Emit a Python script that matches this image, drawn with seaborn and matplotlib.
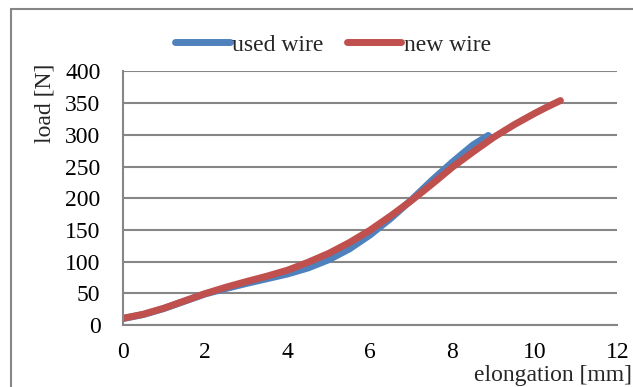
import matplotlib
matplotlib.use("Agg")
import matplotlib.pyplot as plt
import seaborn as sns
import pandas as pd
from matplotlib.patches import Rectangle
from matplotlib.lines import Line2D

# Load-elongation readings for the two wires
used_elong = [0, 0.5, 1, 1.5, 2, 2.5, 3, 3.5, 4, 4.5, 5, 5.5, 6, 6.5, 7, 7.5, 8, 8.5, 8.87]
used_load = [10, 16.5, 26, 37.5, 49, 57.5, 65.5, 73, 80.5, 90, 103, 120, 142, 168, 197, 228, 257, 284, 299]

new_elong = [0, 0.5, 1, 1.5, 2, 2.5, 3, 3.5, 4, 4.5, 5, 5.5, 6, 6.5, 7, 7.5, 8, 8.5, 9, 9.5, 10, 10.3, 10.62]
new_load = [10.5, 17, 26.5, 38, 49.5, 59.5, 68.5, 77, 86.5, 99, 113, 130, 149.5, 172, 196, 222, 249, 273, 296, 316, 334, 344, 354]

series_names = ["used wire", "new wire"]
x_ticks = [0, 2, 4, 6, 8, 10, 12]
y_ticks = [0, 50, 100, 150, 200, 250, 300, 350, 400]

df = pd.concat([
    pd.DataFrame({"elongation": used_elong, "load": used_load, "wire": series_names[0]}),
    pd.DataFrame({"elongation": new_elong, "load": new_load, "wire": series_names[1]}),
])

sns.set_theme(style="white")
plt.rcParams["font.family"] = ["Liberation Serif", "DejaVu Serif"]

GRID = "#868686"
BLUE = "#4F81BD"
RED = "#C0504D"
FS = 17

fig = plt.figure(figsize=(6.33, 3.87), dpi=100)
ax = fig.add_axes([0.1938, 0.1602, 0.7814, 0.6553])

sns.lineplot(data=df, x="elongation", y="load", hue="wire", sort=False,
             palette={series_names[0]: BLUE, series_names[1]: RED},
             linewidth=5, ax=ax, legend=False, estimator=None,
             solid_capstyle="round", solid_joinstyle="round")

ax.set_xlim(0, 12)
ax.set_ylim(0, 400)
ax.set_xticks(x_ticks)
ax.set_yticks(y_ticks)
ax.tick_params(axis="both", direction="out", length=6, width=1.5, color=GRID,
               labelsize=FS, labelcolor="black")
ax.tick_params(axis="y", pad=10)
ax.tick_params(axis="x", pad=6)
ax.yaxis.grid(True, color=GRID, linewidth=1.5)
ax.xaxis.grid(False)
ax.set_axisbelow(True)
for side in ["top", "right"]:
    ax.spines[side].set_visible(False)
for side in ["left", "bottom"]:
    ax.spines[side].set_color(GRID)
    ax.spines[side].set_linewidth(1.5)
ax.set_xlabel("")
ax.set_ylabel("")

fig.text(45 / 633, 1 - 103 / 387, "load [N]", rotation=90, ha="center", va="center",
         fontsize=FS)
fig.text(553 / 633, 1 - 376 / 387, "elongation [mm]", ha="center", va="center",
         fontsize=FS)

# legend across the top
handles = [Line2D([], [], color=BLUE, lw=5, solid_capstyle="round"),
           Line2D([], [], color=RED, lw=5, solid_capstyle="round")]
fig.legend(handles, series_names, loc="center", bbox_to_anchor=(333 / 633, 1 - 45 / 387),
           ncol=2, frameon=False, fontsize=FS, handlelength=2.3, handletextpad=0.1,
           columnspacing=1.0)

# chart-area border
fig.patches.append(Rectangle((11 / 633, -0.2), 1.2, 1.2 - 9 / 387, transform=fig.transFigure,
                             fill=False, edgecolor=GRID, linewidth=1.5))

fig.savefig("out.png", dpi=100)
